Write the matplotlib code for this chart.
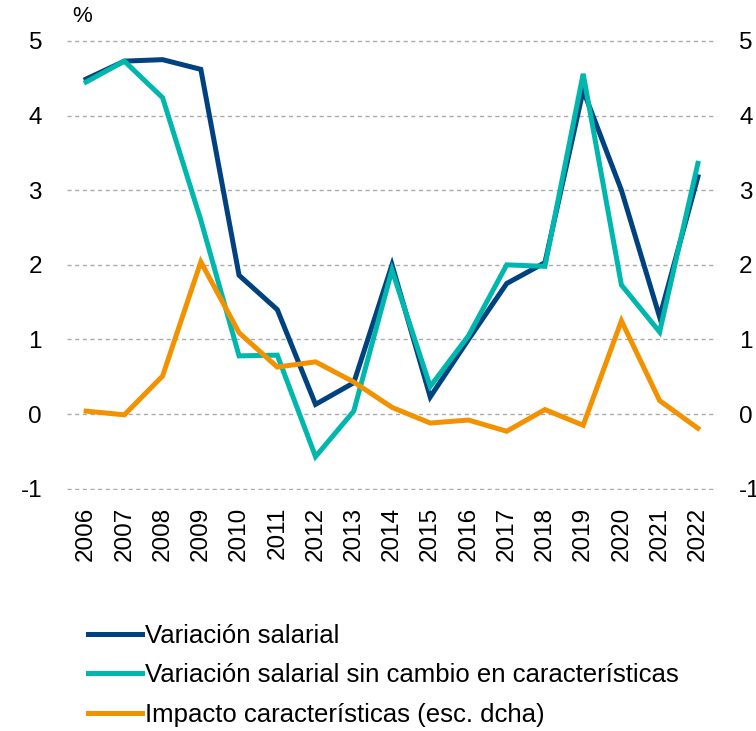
import matplotlib.pyplot as plt
import numpy as np

plt.rcParams['font.family'] = ['Liberation Sans', 'DejaVu Sans']
plt.rcParams['axes.unicode_minus'] = False

years = [str(y) for y in range(2006, 2023)]
variacion = [4.49, 4.73, 4.75, 4.62, 1.86, 1.40, 0.13, 0.42, 2.00, 0.23,
             1.00, 1.75, 2.03, 4.34, 3.00, 1.30, 3.18]
sin_cambio = [4.45, 4.73, 4.24, 2.60, 0.78, 0.79, -0.57, 0.04, 1.93, 0.37,
              1.05, 2.00, 1.98, 4.56, 1.73, 1.10, 3.36]
impacto = [0.04, -0.01, 0.51, 2.04, 1.09, 0.63, 0.70, 0.43, 0.09, -0.12,
           -0.08, -0.23, 0.06, -0.15, 1.25, 0.18, -0.19]
yticks = [-1, 0, 1, 2, 3, 4, 5]

NAVY = "#00427f"
TEAL = "#00b7ae"
ORANGE = "#f39200"
FS = 17.5

fig = plt.figure(figsize=(7.56, 7.31), dpi=100)
# small margin so the -1 and 5 grid lines are not clipped
ax = fig.add_axes([67 / 756, 1 - 490.2 / 731, (717 - 67) / 756, (490.2 - 39.5) / 731])
x = np.arange(len(years))

ax.plot(x, variacion, color=NAVY, lw=3.6, label="Variación salarial", solid_joinstyle='miter')
ax.plot(x, sin_cambio, color=TEAL, lw=3.6, label="Variación salarial sin cambio en características",
        solid_joinstyle='miter')

ax2 = ax.twinx()
ax2.plot(x, impacto, color=ORANGE, lw=3.6, label="Impacto características (esc. dcha)",
         solid_joinstyle='miter')

for a in (ax, ax2):
    a.set_ylim(-1.02, 5.02)
    a.set_yticks(yticks)
    a.set_xlim(-0.5, len(years) - 0.5)
    for s in a.spines.values():
        s.set_visible(False)
    a.tick_params(length=0, labelsize=FS)

ax.yaxis.grid(True, color="#aaaaaa", linestyle=(0, (3, 2.5)), linewidth=1.0)
ax.set_axisbelow(True)
ax.set_xticks(x)
ax.set_xticklabels(years, rotation=90)
ax.tick_params(axis='x', pad=12)
ax.tick_params(axis='y', pad=18)
ax2.tick_params(axis='y', pad=16)

fig.text(72 / 756, 1 - 17 / 731, "%", fontsize=16, va='center', ha='left')

h1, l1 = ax.get_legend_handles_labels()
h2, l2 = ax2.get_legend_handles_labels()
fig.legend(h1 + h2, l1 + l2, loc='upper left', bbox_to_anchor=(88 / 756, 1 - 624 / 731),
           frameon=False, fontsize=18.5, borderpad=0, borderaxespad=0,
           handlelength=2.1, handletextpad=0.12, labelspacing=0.6)

fig.savefig("out.png", dpi=100)
